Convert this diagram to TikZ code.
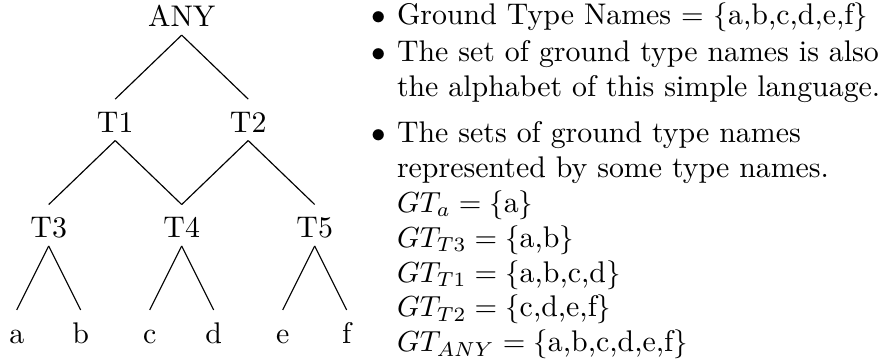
\documentclass[tikz,border=0pt]{standalone}
\usepackage{tikz}
\usetikzlibrary{positioning}
\tikzset{
    typenode/.style={
        inner xsep=0pt,
        inner ysep=2.6pt,
        text height=8.7pt,
        text depth=0pt,
        font=\fontsize{10.3pt}{12pt}\selectfont
    },
    listitem/.style={
        inner sep=0pt,
        align=left,
        anchor=base west, % base = last line of the item
        font=\fontsize{10.3pt}{12pt}\selectfont
    }
}
\newcommand{\itembullet}{\llap{$\bullet$\hspace{3.9pt}}}

\begin{document}
\begin{tikzpicture}[node distance=36.36pt and 22.93pt, on grid]
    \useasboundingbox (0,0) rectangle (303.45pt,-125.52pt);

    % type hierarchy
    \node (any) [typenode, anchor=base] at (62.66pt,-9.31pt) {ANY};
    \node (t1) [typenode, below left=of any] {T1};
    \node (t2) [typenode, below right=of any] {T2};
    \node (t3) [typenode, below left=of t1] {T3};
    \node (t4) [typenode, below right=of t1] {T4};
    \node (t5) [typenode, below right=of t2] {T5};
    \node (a) [typenode, below left=36.36pt and 11.03pt of t3] {a};
    \node (b) [typenode, below right=36.36pt and 11.03pt of t3] {b};
    \node (c) [typenode, below left=36.36pt and 11.03pt of t4] {c};
    \node (d) [typenode, below right=36.36pt and 11.03pt of t4] {d};
    \node (e) [typenode, below left=36.36pt and 11.03pt of t5] {e};
    \node (f) [typenode, below right=36.36pt and 11.03pt of t5] {f};

    \draw (any.south) -- (t1.north);
    \draw (any.south) -- (t2.north);
    \draw (t1.south) -- (t3.north);
    \draw (t1.south) -- (t4.north);
    \draw (t2.south) -- (t4.north);
    \draw (t2.south) -- (t5.north);
    \draw (t3.south) -- (a.north);
    \draw (t3.south) -- (b.north);
    \draw (t4.south) -- (c.north);
    \draw (t4.south) -- (d.north);
    \draw (t5.south) -- (e.north);
    \draw (t5.south) -- (f.north);

    % explanation
    \node (names) [listitem] at (136.7pt,-8.62pt)
        {\itembullet Ground Type Names $=$ $\{$a,b,c,d,e,f$\}$};
    \node (alphabet) [listitem] at (136.7pt,-33.34pt)
        {\itembullet The set of ground type names is also\\
         the alphabet of this simple language.};
    \node (sets) [listitem] at (136.7pt,-121.3pt)
        {\itembullet The sets of ground type names\\
         represented by some type names.\\
         $GT_a = \{$a$\}$\\
         $GT_{T3} = \{$a,b$\}$\\
         $GT_{T1} = \{$a,b,c,d$\}$\\
         $GT_{T2} = \{$c,d,e,f$\}$\\
         $GT_{ANY} = \{$a,b,c,d,e,f$\}$};
\end{tikzpicture}
\end{document}
